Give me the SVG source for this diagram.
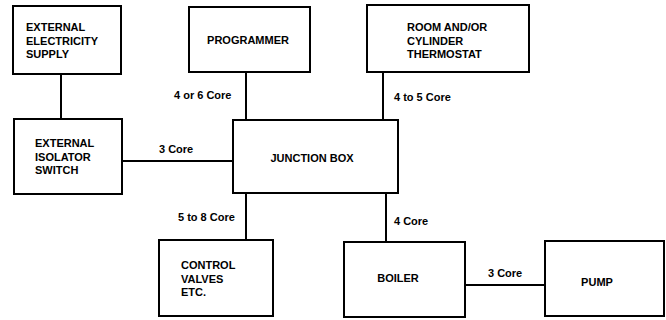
<svg xmlns="http://www.w3.org/2000/svg" width="666" height="320" viewBox="0 0 666 320">
<style>
.box{fill:#fff;stroke:#000;stroke-width:2}
.ln{stroke:#000;stroke-width:2;fill:none}
text{font-family:"Liberation Sans",Arial,sans-serif;font-size:11px;font-weight:bold;fill:#000}
.c{text-anchor:middle}
</style>
<rect width="666" height="320" fill="#fff"/>
<g id="connectors">
<line class="ln" x1="61" y1="74" x2="61" y2="119"/>
<line class="ln" x1="246" y1="72" x2="246" y2="120"/>
<line class="ln" x1="383" y1="72" x2="383" y2="120"/>
<line class="ln" x1="122" y1="161" x2="233" y2="161"/>
<line class="ln" x1="246" y1="193" x2="246" y2="240"/>
<line class="ln" x1="386" y1="193" x2="386" y2="242"/>
<line class="ln" x1="465" y1="285" x2="545" y2="285"/>
<text x="174" y="99">4 or 6 Core</text>
<text x="394" y="101">4 to 5 Core</text>
<text x="159" y="153">3 Core</text>
<text x="178" y="221">5 to 8 Core</text>
<text x="394" y="225">4 Core</text>
<text x="488" y="277">3 Core</text>
</g>
<g id="external-supply">
<rect class="box" x="13" y="6" width="108" height="68"/>
<text x="26" y="31">EXTERNAL</text>
<text x="26" y="44.5">ELECTRICITY</text>
<text x="26" y="58">SUPPLY</text>
</g>
<g id="programmer">
<rect class="box" x="189" y="7" width="121" height="65"/>
<text class="c" x="248" y="43.5">PROGRAMMER</text>
</g>
<g id="thermostat">
<rect class="box" x="367" y="5" width="162" height="67"/>
<text x="407" y="31">ROOM AND/OR</text>
<text x="407" y="44.5">CYLINDER</text>
<text x="407" y="58">THERMOSTAT</text>
</g>
<g id="isolator">
<rect class="box" x="14" y="119" width="108" height="75"/>
<text x="35" y="147">EXTERNAL</text>
<text x="35" y="160.5">ISOLATOR</text>
<text x="35" y="174">SWITCH</text>
</g>
<g id="junction-box">
<rect class="box" x="233" y="120" width="165" height="73"/>
<text class="c" x="312" y="162">JUNCTION BOX</text>
</g>
<g id="control-valves">
<rect class="box" x="159" y="240" width="114" height="76"/>
<text x="181" y="269">CONTROL</text>
<text x="181" y="282.5">VALVES</text>
<text x="181" y="296">ETC.</text>
</g>
<g id="boiler">
<rect class="box" x="344" y="242" width="121" height="75"/>
<text class="c" x="398" y="282">BOILER</text>
</g>
<g id="pump">
<rect class="box" x="545" y="241" width="119" height="75"/>
<text class="c" x="597" y="286">PUMP</text>
</g>
</svg>
